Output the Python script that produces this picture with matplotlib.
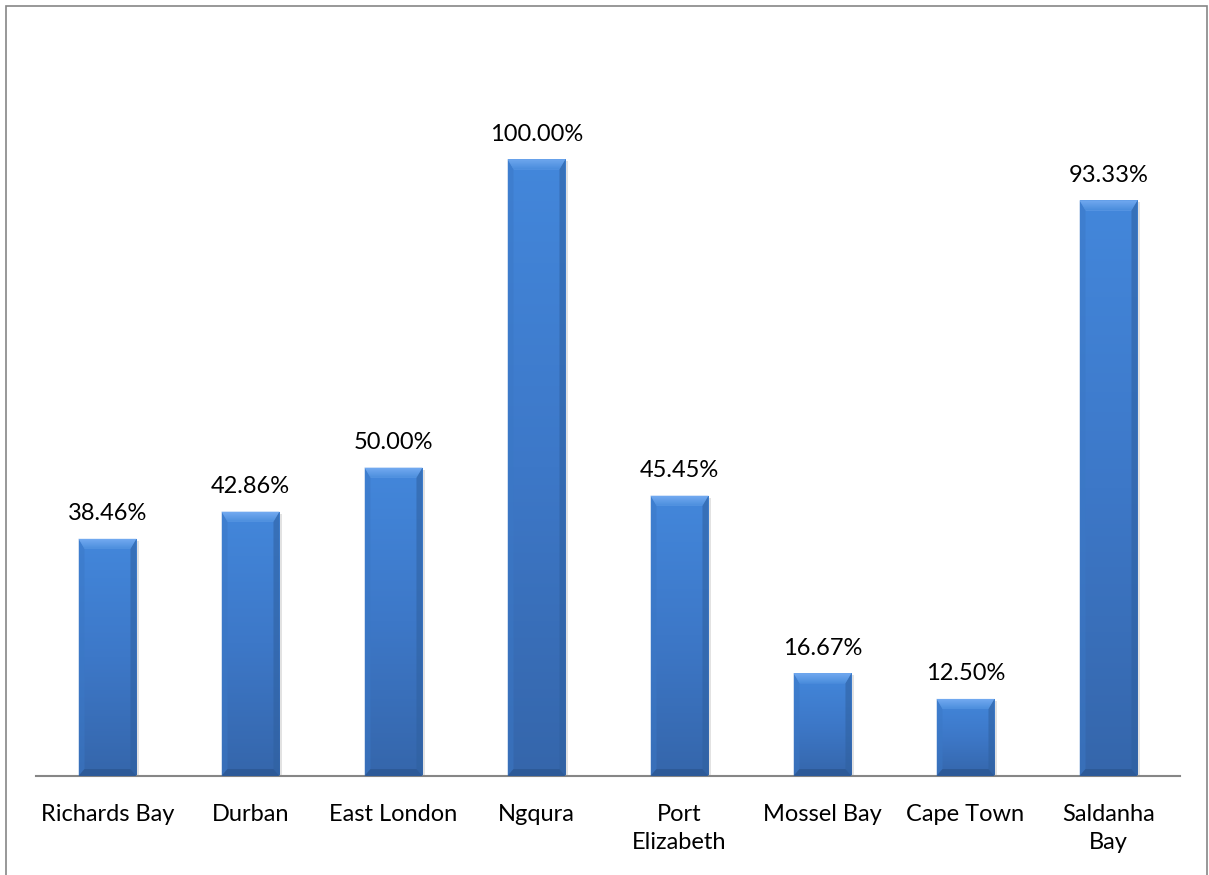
import numpy as np
import matplotlib.pyplot as plt
from matplotlib.patches import Polygon, Rectangle
from matplotlib.colors import LinearSegmentedColormap

ports = ['Richards Bay', 'Durban', 'East London', 'Ngqura',
         'Port\nElizabeth', 'Mossel Bay', 'Cape Town', 'Saldanha\nBay']
share = [38.46, 42.86, 50.00, 100.00, 45.45, 16.67, 12.50, 93.33]

plt.rcParams['font.family'] = ['Lato', 'DejaVu Sans']

fig = plt.figure(figsize=(12.09, 8.75), dpi=100)
ax = fig.add_axes([36 / 1209, 99 / 875, 1144 / 1209, 740 / 875])

# outer chart border (top, left, right)
fig.patches.append(Rectangle((6 / 1209, -0.01), 1201 / 1209, 1 - 6 / 875 + 0.01,
                             transform=fig.transFigure, fill=False,
                             edgecolor='#868686', linewidth=1.2))

ax.set_xlim(-0.5, len(ports) - 0.5)
ax.set_ylim(0, 120)
width = 0.405

# pixel -> data unit conversion for the bevel edges
px_x = 1 / 143.0
px_y = 120 / 740.0
bx = 6 * px_x
bt = 10 * px_y
bb = 7 * px_y

body = LinearSegmentedColormap.from_list('body', ['#3566ab', '#3d78c8', '#4387db'])
topc = LinearSegmentedColormap.from_list('topc', ['#4b8ddd', '#72aaf0'])

for i, v in enumerate(share):
    x0, x1 = i - width / 2, i + width / 2
    # soft shadow on the right
    ax.add_patch(Rectangle((x1, 0), 3 * px_x, v - 2 * px_y, color='#d0d0d0',
                           alpha=0.6, zorder=1, linewidth=0))
    bar = ax.bar(i, v, width=width, color='#3f7fcf', linewidth=0, zorder=2)[0]
    grad = np.linspace(0, 1, 256).reshape(-1, 1)
    im = ax.imshow(grad, cmap=body, aspect='auto', origin='lower',
                   extent=(x0, x1, 0, v), zorder=2)
    im.set_clip_path(bar)
    # bevels: top, left, right, bottom
    top = Polygon([(x0, v), (x1, v), (x1 - bx, v - bt), (x0 + bx, v - bt)],
                  closed=True, color='#6aa3ea', linewidth=0, zorder=3)
    ax.add_patch(top)
    tim = ax.imshow(grad, cmap=topc, aspect='auto', origin='lower',
                    extent=(x0, x1, v - bt, v), zorder=3)
    tim.set_clip_path(top)
    ax.add_patch(Polygon([(x0, v), (x0 + bx, v - bt), (x0 + bx, bb), (x0, 0)],
                         closed=True, color='#3b78c6', linewidth=0, zorder=3, alpha=0.5))
    ax.add_patch(Polygon([(x1, v), (x1 - bx, v - bt), (x1 - bx, bb), (x1, 0)],
                         closed=True, color='#2f609f', linewidth=0, zorder=3, alpha=0.55))
    ax.add_patch(Polygon([(x0, 0), (x1, 0), (x1 - bx, bb), (x0 + bx, bb)],
                         closed=True, color='#2d5a98', linewidth=0, zorder=3))
    ax.text(i, v + 25 * px_y, '%.2f%%' % v, ha='center', va='center',
            fontsize=17, color='#000000')

ax.set_xticks(range(len(ports)))
ax.set_xticklabels(ports, fontsize=17, linespacing=1.45, va='top')
ax.tick_params(axis='x', length=0, pad=20)
ax.set_yticks([])
for s in ['top', 'left', 'right']:
    ax.spines[s].set_visible(False)
ax.spines['bottom'].set_color('#868686')
ax.spines['bottom'].set_linewidth(1.5)
ax.set_xlim(-0.5, len(ports) - 0.5)
ax.set_ylim(0, 120)

fig.savefig('out.png', dpi=100)
